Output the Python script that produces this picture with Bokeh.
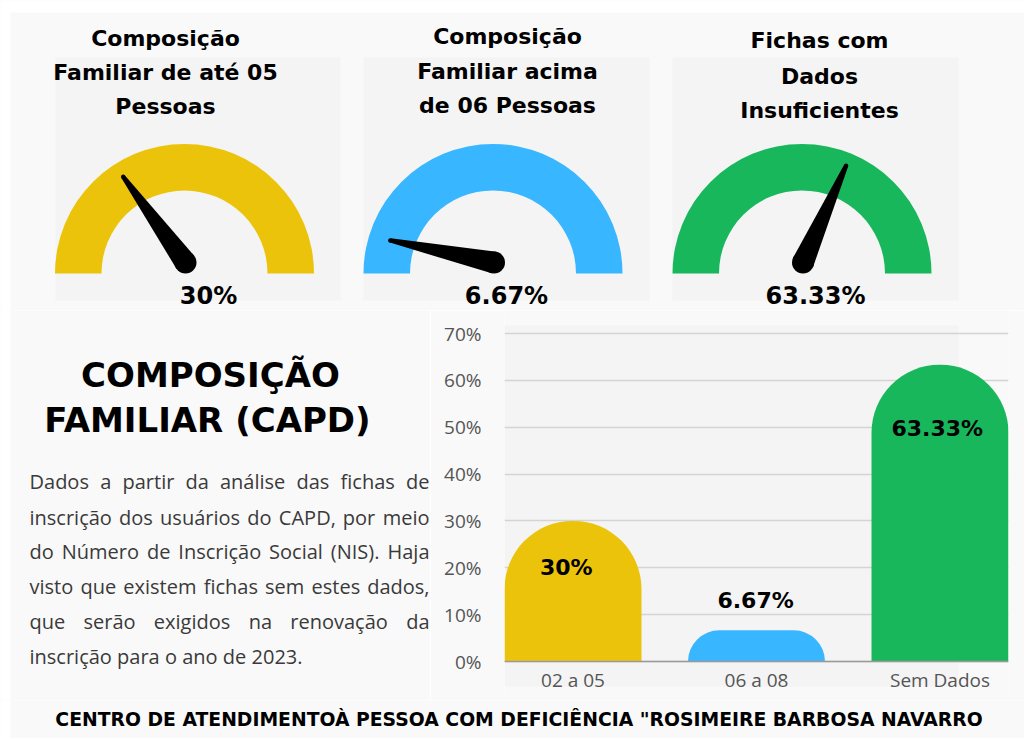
import math
from bokeh.plotting import figure
from bokeh.layouts import column, row
from bokeh.models import Range1d, FixedTicker, PrintfTickFormatter, BoxAnnotation, Span
from bokeh.core.properties import value
from bokeh.embed import file_html
from bokeh.resources import INLINE

# ---------------- data ----------------
categories = ["02 a 05", "06 a 08", "Sem Dados"]
percent_values = [30.0, 6.67, 63.33]
value_labels = ["30%", "6.67%", "63.33%"]
series_colors = ["#ecc30b", "#38b6ff", "#19b75b"]
gauge_titles = [
    ["Composição", "Familiar de até 05", "Pessoas"],
    ["Composição", "Familiar acima", "de 06 Pessoas"],
    ["Fichas com", "Dados", "Insuficientes"],
]
y_ticks = [0, 10, 20, 30, 40, 50, 60, 70]
main_title = ["COMPOSIÇÃO", "FAMILIAR (CAPD)"]
paragraph_lines = [
    "Dados a partir da análise das fichas de",
    "inscrição dos usuários do CAPD, por meio",
    "do Número de Inscrição Social (NIS). Haja",
    "visto que existem fichas sem estes dados,",
    "que serão exigidos na renovação da",
    "inscrição para o ano de 2023.",
]
footer_text = 'CENTRO DE ATENDIMENTOÀ PESSOA COM DEFICIÊNCIA "ROSIMEIRE BARBOSA NAVARRO'

# ---------------- layout / style ----------------
W, H = 1024, 738
PAGE = "#f9f9f9"
PANEL = "#f4f4f4"
WHITE = "#ffffff"
HEAD = "DejaVu Sans"
BODY = "Open Sans"
HEAD_FONT = value(HEAD)
BODY_FONT = value(BODY)

# middle band and the bar chart's plotting area (page pixels)
MID_X0, MID_Y0, MID_H = 430, 310, 390
AX_L, AX_R, AX_T, AX_B = 504, 1008, 333, 661      # 0..70 % area
PX_PER_UNIT = (AX_B - AX_T) / 70.0
Y_LO = -(MID_Y0 + MID_H - AX_B) / PX_PER_UNIT
Y_HI = 70 + (AX_T - MID_Y0) / PX_PER_UNIT


def Y(py):
    return H - py


def make_fig(x0, y0, w, h):
    p = figure(width=w, height=h, x_range=Range1d(x0, x0 + w),
               y_range=Range1d(H - (y0 + h), H - y0),
               x_axis_type=None, y_axis_type=None, toolbar_location=None,
               output_backend="svg", min_border=0, title=None)
    p.outline_line_color = None
    p.background_fill_color = PAGE
    p.border_fill_color = PAGE
    return p


# Open Sans advance widths (units per 2048 em), approximate
OS_W = {' ': 532, ',': 502, '.': 545, '(': 608, ')': 608, '0': 1171, '1': 1171, '2': 1171,
        '3': 1171, '4': 1171, '5': 1171, '6': 1171, '7': 1171, '8': 1171, '9': 1171,
        'A': 1296, 'C': 1292, 'D': 1493, 'H': 1511, 'I': 571, 'N': 1544, 'P': 1233, 'S': 1124,
        'a': 1139, 'b': 1255, 'c': 975, 'd': 1255, 'e': 1149, 'f': 694, 'g': 1122, 'h': 1257,
        'i': 518, 'j': 518, 'k': 1075, 'l': 518, 'm': 1905, 'n': 1257, 'o': 1237, 'p': 1255,
        'q': 1255, 'r': 836, 's': 977, 't': 723, 'u': 1257, 'v': 1026, 'w': 1593, 'x': 1073,
        'y': 1028, 'z': 977, 'ã': 1139, 'á': 1139, 'ç': 975, 'ú': 1257, 'é': 1149, 'ê': 1149}


def text_width(s, size):
    return sum(OS_W.get(c, 1150) for c in s) / 2048.0 * size


# ---------------- top: gauges ----------------
top = make_fig(0, 0, W, MID_Y0)
top.quad(left=[0, 0], right=[W, 10], bottom=[Y(12), Y(MID_Y0)], top=[Y(0), Y(0)],
         color=WHITE, line_color=None)
panel_l = [55, 363, 672]
panel_r = [340, 649, 958]
top.quad(left=panel_l, right=panel_r, bottom=Y(300), top=Y(57), color=PANEL, line_color=None)

gauge_cx = [184, 492.5, 801.5]
top.annular_wedge(x=gauge_cx, y=Y(273), inner_radius=83, outer_radius=129.5,
                  start_angle=0, end_angle=math.pi, color=series_colors, line_color=None)

L, RB, RT = 106, 11, 2.2
nx_s, ny_s, tip_x, tip_y, base_x, base_y = [], [], [], [], [], []
for cx, v in zip(gauge_cx, percent_values):
    th = math.pi * (1 - v / 100.0)
    ux, uy = math.cos(th), math.sin(th)
    nx, ny = -uy, ux
    bx, by = cx + 1, Y(262)
    tx, ty = bx + L * ux, by + L * uy
    nx_s.append([bx + nx * RB, tx + nx * RT, tx - nx * RT, bx - nx * RB])
    ny_s.append([by + ny * RB, ty + ny * RT, ty - ny * RT, by - ny * RB])
    tip_x.append(tx); tip_y.append(ty); base_x.append(bx); base_y.append(by)
top.patches(xs=nx_s, ys=ny_s, color="black", line_color=None)
top.circle(x=base_x, y=base_y, radius=RB, color="black", line_color=None)
top.circle(x=tip_x, y=tip_y, radius=RT, color="black", line_color=None)

title_cx = [165, 507, 819]
title_y = [[38, 72, 106], [36, 71, 105], [40, 76, 110]]
tx_, ty_, tt_ = [], [], []
for i in range(3):
    for j, line in enumerate(gauge_titles[i]):
        tx_.append(title_cx[i]); ty_.append(Y(title_y[i][j])); tt_.append(line)
top.text(x=tx_, y=ty_, text=tt_, text_font=HEAD_FONT, text_font_style="bold",
         text_font_size="22px", text_align="center", text_baseline="middle", text_color="black")

pct_x = [208, 506, 815]
top.text(x=pct_x, y=Y(295), text=value_labels, text_font=HEAD_FONT, text_font_style="bold",
         text_font_size="24px", text_align="center", text_baseline="middle", text_color="black")

# ---------------- middle left: title & paragraph ----------------
left = make_fig(0, MID_Y0, MID_X0, MID_H)
left.quad(left=0, right=10, bottom=Y(MID_Y0 + MID_H), top=Y(MID_Y0), color=WHITE, line_color=None)
left.text(x=[210, 207], y=[Y(374), Y(419)], text=main_title, text_font=HEAD_FONT,
          text_font_style="bold", text_font_size="34px", text_align="center",
          text_baseline="middle", text_color="black")

PSIZE = 20
P_LEFT, P_RIGHT = 29, 429
line_y = [481, 516.5, 551, 586, 621, 656]
lx, ly, lt, rx, ry, rt = [], [], [], [], [], []
for i, line in enumerate(paragraph_lines):
    words = line.split(" ")
    widths = [text_width(w, PSIZE) for w in words]
    justify = i < len(paragraph_lines) - 1
    gap = (P_RIGHT - P_LEFT - sum(widths)) / (len(words) - 1) if justify else text_width(" ", PSIZE)
    x = P_LEFT
    for j, w in enumerate(words):
        if justify and j == len(words) - 1:
            rx.append(P_RIGHT); ry.append(Y(line_y[i])); rt.append(w)
        else:
            lx.append(x); ly.append(Y(line_y[i])); lt.append(w)
        x += widths[j] + gap
para_style = dict(text_font=BODY_FONT, text_font_size=f"{PSIZE}px", text_baseline="middle",
                  text_color="#3a3a3a")
left.text(x=lx, y=ly, text=lt, text_align="left", **para_style)
left.text(x=rx, y=ry, text=rt, text_align="right", **para_style)

# ---------------- middle right: bar chart ----------------
bar_pos = list(range(len(categories)))
x_lo, x_hi = -0.3733, 2.3733
bar = figure(width=W - MID_X0, height=MID_H, x_range=Range1d(x_lo, x_hi),
             y_range=Range1d(Y_LO, Y_HI), toolbar_location=None, output_backend="svg",
             title=None, x_axis_type=None,
             min_border_left=AX_L - MID_X0, min_border_right=W - AX_R,
             min_border_top=0, min_border_bottom=0)
bar.outline_line_color = None
bar.background_fill_color = PAGE
bar.border_fill_color = PAGE
unit_x = (x_hi - x_lo) / (AX_R - AX_L)
bar.add_layout(BoxAnnotation(right=x_hi - 50 * unit_x,
                             top=70 + (AX_T - 325) / PX_PER_UNIT,
                             bottom=-(686 - AX_B) / PX_PER_UNIT,
                             fill_color=PANEL, fill_alpha=1.0, line_color=None, level="image"))
for g in bar.grid:
    if g.dimension == 0:
        g.grid_line_color = None
bar.ygrid.grid_line_color = "#d4d4d4"
bar.ygrid.grid_line_width = 1.5
bar.yaxis.ticker = FixedTicker(ticks=y_ticks)
bar.yaxis.formatter = PrintfTickFormatter(format="%d%%")
bar.yaxis.major_tick_line_color = None
bar.yaxis.minor_tick_line_color = None
bar.yaxis.major_label_text_font = BODY
bar.yaxis.major_label_text_font_size = "19px"
bar.yaxis.major_label_text_color = "#555555"
bar.yaxis.axis_line_color = None
bar.yaxis.major_label_standoff = 17
bar.add_layout(Span(location=0, dimension="width", line_color="#9a9a9a", line_width=1.5))

bar.vbar(x=bar_pos, top=percent_values, bottom=0, width=0.7466, color=series_colors,
         line_color=None, border_radius=(68, 68, 0, 0))
# category labels under the baseline
bar.text(x=bar_pos, y=-(679 - AX_B) / PX_PER_UNIT, text=categories, text_font=BODY_FONT,
         text_font_size="19px", text_color="#555555", text_align="center",
         text_baseline="middle")
label_x = [-0.037, 0.995, 1.985]
label_y = [20.1, 13.0, 49.8]
bar.text(x=label_x, y=label_y, text=value_labels, text_font=HEAD_FONT, text_font_style="bold",
         text_font_size="22px", text_align="center", text_baseline="middle", text_color="black")

# ---------------- footer ----------------
bottom = make_fig(0, MID_Y0 + MID_H, W, H - MID_Y0 - MID_H)
bottom.quad(left=0, right=10, bottom=Y(H), top=Y(MID_Y0 + MID_H), color=WHITE, line_color=None)
bottom.text(x=[518.5], y=[Y(719)], text=[footer_text], text_font=HEAD_FONT,
            text_font_style="bold", text_font_size="18.8px", text_align="center",
            text_baseline="middle", text_color="black")

layout = column(top, row(left, bar), bottom)
open("out.html", "w").write(file_html(layout, INLINE))
